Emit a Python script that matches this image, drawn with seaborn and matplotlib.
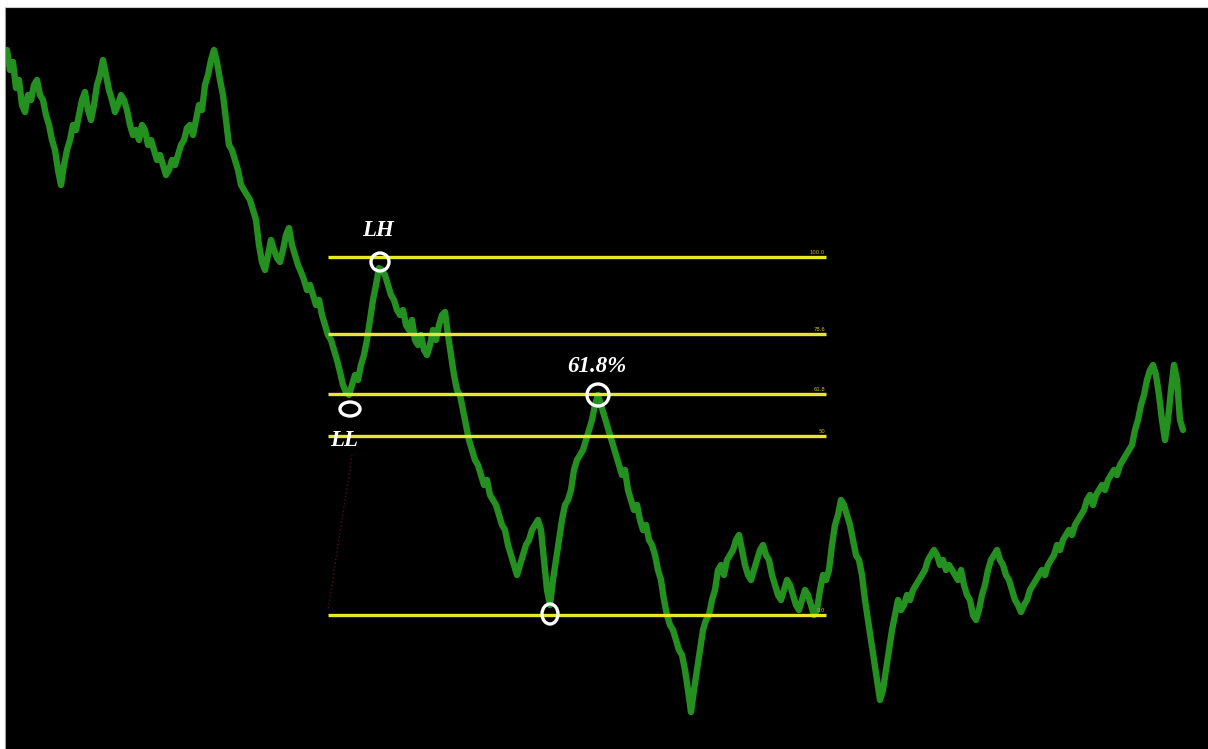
import numpy as np
import pandas as pd
import matplotlib
matplotlib.use("Agg")
import matplotlib.pyplot as plt
from matplotlib.patches import Ellipse
import seaborn as sns

# ---- data ----
price = [699, 679, 687, 661, 669, 644, 637, 654, 649, 664, 669, 654, 649, 634, 624, 609, 599, 579, 564, 584,
         599, 609, 624, 619, 634, 649, 657, 639, 629, 644, 664, 674, 689, 674, 659, 649, 637, 644, 654, 649,
         639, 624, 614, 619, 609, 624, 619, 604, 609, 599, 589, 594, 584, 574, 579, 589, 584, 594, 604, 609,
         621, 624, 614, 629, 644, 639, 664, 674, 689, 699, 687, 669, 654, 629, 604, 599, 589, 579, 564, 559,
         554, 549, 539, 529, 504, 487, 479, 494, 509, 499, 491, 487, 499, 514, 521, 504, 494, 484, 477, 469,
         459, 464, 454, 444, 449, 434, 424, 414, 409, 399, 389, 377, 364, 357, 354, 364, 374, 369, 384, 394,
         409, 429, 449, 464, 481, 479, 474, 464, 454, 449, 439, 434, 439, 424, 419, 429, 409, 404, 414, 399,
         394, 404, 419, 409, 424, 434, 437, 414, 394, 374, 359, 354, 339, 324, 309, 299, 289, 284, 274, 264,
         269, 254, 249, 244, 234, 224, 219, 204, 194, 184, 174, 184, 194, 204, 209, 219, 224, 229, 219, 189,
         159, 144, 169, 189, 209, 229, 244, 249, 259, 279, 289, 294, 299, 309, 319, 329, 344, 354, 344, 334,
         324, 314, 304, 294, 284, 274, 279, 259, 249, 239, 244, 229, 219, 224, 209, 204, 194, 179, 169, 149,
         134, 124, 119, 109, 99, 94, 79, 59, 37, 59, 79, 99, 119, 129, 134, 149, 159, 179, 184, 174,
         189, 194, 199, 209, 214, 199, 184, 174, 169, 179, 189, 199, 204, 194, 189, 174, 164, 154, 149, 159,
         169, 164, 154, 144, 139, 149, 159, 154, 144, 134, 139, 159, 174, 169, 179, 204, 224, 234, 249, 244,
         234, 224, 209, 194, 189, 174, 149, 129, 109, 89, 69, 49, 59, 79, 99, 119, 134, 149, 139, 144,
         154, 149, 159, 164, 169, 174, 179, 189, 194, 199, 194, 184, 189, 179, 184, 179, 174, 169, 179, 164,
         154, 149, 134, 129, 139, 154, 164, 179, 189, 194, 199, 189, 184, 174, 169, 159, 149, 144, 137, 144,
         149, 159, 164, 169, 174, 179, 174, 184, 189, 194, 204, 199, 209, 214, 219, 214, 224, 229, 234, 239,
         249, 254, 244, 254, 259, 264, 259, 269, 274, 279, 274, 284, 289, 294, 299, 304, 319, 329, 344, 354,
         369, 379, 384, 374, 354, 329, 309, 329, 359, 384, 369, 329, 319]
first_bar = 7
bar_step = 3

fib_low = 134
fib_high = 492
fib_start_bar = 328
fib_end_bar = 826
fib_levels = [100.0, 78.6, 61.8, 50.0, 0.0]
fib_labels = ["100.0", "78.6", "61.8", "50", "0.0"]

trend_from = (352, 294)
trend_to = (328, 139)

annotations = ["LH", "61.8%", "LL"]
annot_pos = [(378, 519), (597, 382), (344, 309)]

circles = [(380, 487, 18, 18), (350, 340, 20, 14), (598, 354, 22, 22), (550, 135, 16, 20)]

# ---- figure ----
bars = np.arange(first_bar, first_bar + bar_step * len(price), bar_step)
df = pd.DataFrame({"bar": bars, "price": price})

sns.set_style("dark")
W, H = 1208, 749
fig = plt.figure(figsize=(W / 100, H / 100), dpi=100, facecolor="white")
ax = fig.add_axes([5 / W, 0, 1203 / W, 742 / H])
ax.set_facecolor("black")

sns.lineplot(data=df, x="bar", y="price", ax=ax, color="#23901f", linewidth=4.6,
             estimator=None, sort=False)

rng = fib_high - fib_low
for lvl, lab in zip(fib_levels, fib_labels):
    yv = fib_low + rng * lvl / 100.0
    ax.plot([fib_start_bar, fib_end_bar], [yv, yv], color="#e8e82a", linewidth=2.4,
            solid_capstyle="butt", zorder=4)
    ax.text(fib_end_bar - 1, yv + 2, lab, color="#c8c020", fontsize=3.8,
            ha="right", va="bottom", zorder=5)

ax.plot([trend_from[0], trend_to[0]], [trend_from[1], trend_to[1]], color="#6a1020",
        linestyle=(0, (1, 2)), linewidth=0.9, zorder=3)

for (cx, cy, w, h) in circles:
    ax.add_patch(Ellipse((cx, cy), w, h, fill=False, edgecolor="white", linewidth=2.4, zorder=6))

for txt, (tx, ty) in zip(annotations, annot_pos):
    ax.text(tx, ty, txt, color="white", fontsize=16.5, fontstyle="italic", fontweight="bold",
            family=["Liberation Serif", "DejaVu Serif"], ha="center", va="center", zorder=7)

ax.set_xlim(5, 1208)
ax.set_ylim(0, 742)
ax.set_xticks([])
ax.set_yticks([])
ax.set_xlabel("")
ax.set_ylabel("")
for s in ax.spines.values():
    s.set_visible(False)
ax.spines["left"].set_visible(True)
ax.spines["left"].set_color("#9a9a9a")
ax.spines["top"].set_visible(True)
ax.spines["top"].set_color("#d0d0d0")

fig.savefig("out.png", dpi=100, facecolor="white")
